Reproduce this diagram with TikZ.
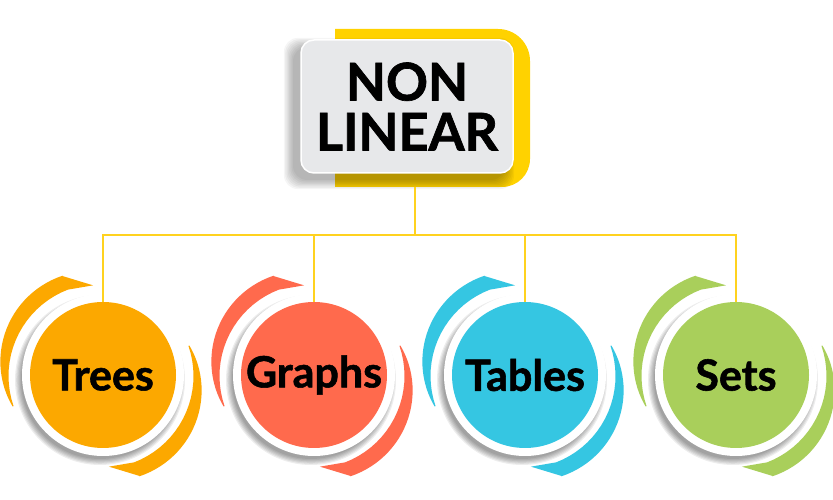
\documentclass[tikz,border=0pt]{standalone}
\usepackage{fontspec}
\setmainfont{Lato}[BoldFeatures={FakeBold=1.3}]
\definecolor{ybox}{HTML}{FFD200}
\definecolor{yline}{HTML}{FFD21F}
\definecolor{boxgray}{HTML}{E7E8EA}
\definecolor{corange}{HTML}{FCA800}
\definecolor{ccoral}{HTML}{FF6A4D}
\definecolor{ccyan}{HTML}{35C6E2}
\definecolor{cgreen}{HTML}{A9CF5B}
\tikzset{
  conn/.style={draw=yline, line width=2.8pt},
  topbox/.style={draw=white, line width=1.5pt, fill=boxgray, rounded corners=13pt,
    minimum width=212pt, minimum height=133pt, align=center,
    font=\bfseries\fontsize{52}{50}\selectfont, text=black},
  disc/.style={circle, fill=#1, minimum size=146pt, inner sep=0pt,
    font=\bfseries\fontsize{43}{43}\selectfont, text=black},
}
\newcommand{\ringgroup}[4]{%
  \begin{scope}[shift={(#2,125)}]
    % crescents
    \begin{scope}[shift={(-2,-1)}]
      \fill[#3] (95:91) -- (111:107) -- plot[domain=111:199,samples=30] (\x:{108-20*(1-cos(\x-125))})
        -- plot[domain=199:111,samples=20] (\x:92.5) -- cycle;
      \begin{scope}[rotate=180]
      \fill[#3] (95:91) -- (111:107) -- plot[domain=111:199,samples=30] (\x:{108-20*(1-cos(\x-125))})
        -- plot[domain=199:111,samples=20] (\x:92.5) -- cycle;
      \end{scope}
    \end{scope}
    % shadow
    \foreach \k in {0,...,5}{\fill[black,opacity=0.07] (-3,-5) circle ({79+\k*1.2});}
    \fill[white] (0,0) circle (81);
    \node[disc=#3] (#1) at (0,0) {#4};
  \end{scope}}
\begin{document}
\begin{tikzpicture}[x=1pt,y=1pt]
\useasboundingbox (0,0) rectangle (833,500);
\fill[white] (0,0) rectangle (833,500);
% yellow frame behind top box
\fill[ybox] (335,471) -- (498,471) arc[start angle=90,end angle=0,radius=32] -- (530,341)
  arc[start angle=0,end angle=-90,radius=28] -- (335,313) -- cycle;
% shadow of top box
\foreach \k in {0,...,7}{\fill[black,opacity=0.04,rounded corners=14pt]
  ({301-8-\k*1.3},{327-7-\k*1.3}) rectangle ({513-8+\k*1.3},{460-7+\k*1.3});}
\node[topbox] (top) at (407,393.5) {NON\\LINEAR};
% circles
\ringgroup{trees}{103}{corange}{Trees}
\ringgroup{graphs}{314}{ccoral}{Graphs}
\ringgroup{tables}{525}{ccyan}{Tables}
\ringgroup{sets}{736}{cgreen}{Sets}
% connectors
\coordinate (stem) at (415,313);
\coordinate (hub) at (415,265);
\draw[conn] (stem) -- (hub);
\draw[conn] (hub) -| (trees.north);
\draw[conn] (hub) -| (graphs.north);
\draw[conn] (hub) -| (tables.north);
\draw[conn] (hub) -| (sets.north);
\end{tikzpicture}
\end{document}
